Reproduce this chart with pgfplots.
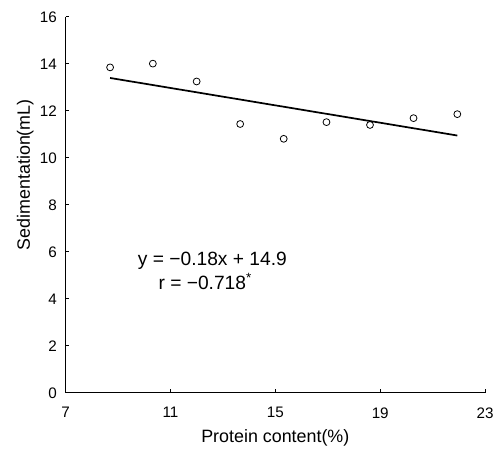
\documentclass[border=0pt]{standalone}
\usepackage{fontspec}
\setmainfont{Liberation Sans}
\usepackage{pgfplots}
\pgfplotsset{compat=1.18}

\begin{document}
\begin{tikzpicture}
\begin{axis}[
    scale only axis,
    width=317pt,
    height=284pt,
    xmin=7, xmax=23,
    ymin=0, ymax=16,
    xtick={7,11,15,19,23},
    ytick={0,2,4,6,8,10,12,14,16},
    axis lines*=left,
    tick align=inside,
    major tick length=3pt,
    axis line style={line width=0.6pt},
    every tick/.style={black, line width=0.6pt},
    /pgf/number format/assume math mode=true,
    tick label style={font=\fontsize{11.5}{13}\selectfont},
    xticklabel style={yshift=-7.5pt},
    yticklabel style={xshift=-3pt},
    label style={font=\fontsize{13.5}{16}\selectfont},
    xlabel={Protein content(\%)},
    ylabel={Sedimentation(mL)},
    xlabel style={yshift=-2pt},
    ylabel style={at={(ticklabel cs:0.58)}, yshift=-2pt},
    clip=false,
]
\addplot[only marks, mark=o, mark size=2.6pt, line width=0.6pt] coordinates {
    (8.70,13.85) (10.33,14.01) (12.00,13.25) (13.66,11.44) (15.32,10.81)
    (16.95,11.52) (18.61,11.40) (20.27,11.69) (21.94,11.86)
};
\addplot[black, line width=1.3pt] coordinates {
    (8.70,13.40) (21.94,10.95)
};
\node[font=\fontsize{14.5}{17}\selectfont] at (axis cs:12.6,5.61) {y = −0.18x + 14.9};
\node[font=\fontsize{14.5}{17}\selectfont] at (axis cs:12.33,4.75) {r = −0.718\textsuperscript{*}};
% room round the axis as in the reference
\path (rel axis cs:0,0) ++(-49.5pt,-45pt);
\path (rel axis cs:1,1) ++(6.75pt,12.75pt);
\end{axis}
\end{tikzpicture}
\end{document}
